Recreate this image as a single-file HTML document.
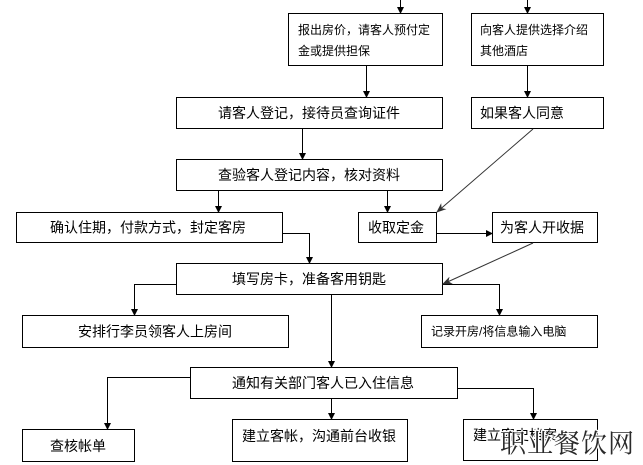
<!DOCTYPE html>
<html>
<head>
<meta charset="utf-8">
<style>
  html,body{margin:0;padding:0;background:#fff;}
  svg{display:block;}
  text{font-family:"Liberation Sans","Noto Sans CJK SC",sans-serif;fill:#000;}
</style>
</head>
<body>
<svg width="643" height="465" viewBox="0 0 643 465" xmlns="http://www.w3.org/2000/svg">
  <defs>
    <marker id="ah" markerWidth="7" markerHeight="7" refX="6" refY="3.5" orient="auto" markerUnits="userSpaceOnUse">
      <path d="M0,0 L7,3.5 L0,7 Z" fill="#000"/>
    </marker>
    <marker id="ad" markerWidth="10" markerHeight="8" refX="9" refY="4" orient="auto" markerUnits="userSpaceOnUse">
      <path d="M0,0 L10,4 L0,8 L3,4 Z" fill="#333"/>
    </marker>
  </defs>
  <rect x="0" y="0" width="643" height="465" fill="#fff"/>

  <g fill="none" stroke="#000" stroke-width="1">
    <!-- boxes -->
    <rect x="288.5" y="13.5" width="154" height="52"/>
    <rect x="471.5" y="13.5" width="132" height="52"/>
    <rect x="176.5" y="97.5" width="266" height="31"/>
    <rect x="471.5" y="97.5" width="132" height="31"/>
    <rect x="176.5" y="159.5" width="266" height="31"/>
    <rect x="16.5" y="212.5" width="266" height="30"/>
    <rect x="358.5" y="212.5" width="78" height="30"/>
    <rect x="492.5" y="212.5" width="105" height="30"/>
    <rect x="176.5" y="263.5" width="266" height="31"/>
    <rect x="22.5" y="315.5" width="266" height="32"/>
    <rect x="421.5" y="315.5" width="176" height="32"/>
    <rect x="190.5" y="367.5" width="267" height="31"/>
    <rect x="22.5" y="429.5" width="112" height="32"/>
    <rect x="232.5" y="419.5" width="175" height="42"/>
    <rect x="463.5" y="419.5" width="134" height="41"/>
  </g>

  <g fill="none" stroke="#000" stroke-width="1">
    <!-- straight connectors -->
    <path d="M400.5,0 V13" marker-end="url(#ah)"/>
    <path d="M527.5,0 V13" marker-end="url(#ah)"/>
    <path d="M366.5,66 V97" marker-end="url(#ah)"/>
    <path d="M527.5,66 V97" marker-end="url(#ah)"/>
    <path d="M302.5,129 V159" marker-end="url(#ah)"/>
    <path d="M218.5,191 V212" marker-end="url(#ah)"/>
    <path d="M387.5,191 V212" marker-end="url(#ah)"/>
    <path d="M437,233.5 H492" marker-end="url(#ah)"/>
    <path d="M283,233.5 H309.5 V263" marker-end="url(#ah)"/>
    <path d="M176,284.5 H134.5 V315" marker-end="url(#ah)"/>
    <path d="M443,284.5 H499.5 V315" marker-end="url(#ah)"/>
    <path d="M331.5,295 V367" marker-end="url(#ah)"/>
    <path d="M190,377.5 H107.5 V429" marker-end="url(#ah)"/>
    <path d="M331.5,399 V419" marker-end="url(#ah)"/>
    <path d="M458,388.5 H533.5 V419" marker-end="url(#ah)"/>
  </g>
  <g fill="none" stroke="#333" stroke-width="1">
    <!-- diagonal connectors -->
    <path d="M533,129 L437,212" marker-end="url(#ad)"/>
    <path d="M533,243 L443,284" marker-end="url(#ad)"/>
  </g>

  <!-- labels -->
  <g font-size="12">
    <text x="298" y="30" dominant-baseline="central">报出房价，请客人预付定</text>
    <text x="298" y="51" dominant-baseline="central">金或提供担保</text>
    <text x="480" y="30" dominant-baseline="central">向客人提供选择介绍</text>
    <text x="480" y="51" dominant-baseline="central">其他酒店</text>
    <text x="431" y="331.5" dominant-baseline="central">记录开房/将信息输入电脑</text>
  </g>
  <g font-size="14">
    <text x="309" y="113" text-anchor="middle" dominant-baseline="central">请客人登记，接待员查询证件</text>
    <text x="480" y="113" dominant-baseline="central">如果客人同意</text>
    <text x="309" y="175" text-anchor="middle" dominant-baseline="central">查验客人登记内容，核对资料</text>
    <text x="148" y="227.5" text-anchor="middle" dominant-baseline="central">确认住期，付款方式，封定客房</text>
    <text x="396" y="227.5" text-anchor="middle" dominant-baseline="central">收取定金</text>
    <text x="542" y="227.5" text-anchor="middle" dominant-baseline="central">为客人开收据</text>
    <text x="309" y="279" text-anchor="middle" dominant-baseline="central">填写房卡，准备客用钥匙</text>
    <text x="155" y="331.5" text-anchor="middle" dominant-baseline="central">安排行李员领客人上房间</text>
    <text x="323" y="383" text-anchor="middle" dominant-baseline="central">通知有关部门客人已入住信息</text>
    <text x="78" y="446" text-anchor="middle" dominant-baseline="central">查核帐单</text>
    <text x="242" y="436" dominant-baseline="central">建立客帐，沟通前台收银</text>
    <text x="473" y="435" dominant-baseline="central">建立客史档案</text>
  </g>

  <!-- watermark -->
  <text x="500" y="442" font-size="26" dominant-baseline="central"
        style="font-family:'Noto Serif CJK SC','Liberation Serif',serif;fill:#2a2a2a;stroke:#fff;stroke-width:2.5px;paint-order:stroke;letter-spacing:1px;">职业餐饮网</text>
</svg>
</body>
</html>
